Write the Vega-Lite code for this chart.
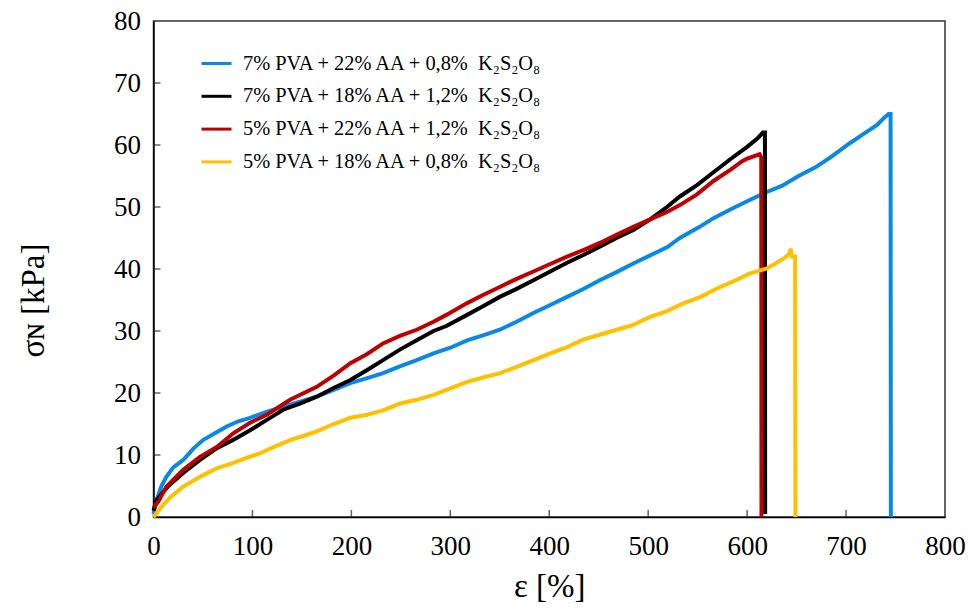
{
  "$schema": "https://vega.github.io/schema/vega-lite/v6.json",
  "autosize": {"type": "none"},
  "width": 791.5,
  "height": 496,
  "padding": {"left": 153.5, "top": 21, "right": 23, "bottom": 91},
  "background": "white",
  "config": {
    "view": {"stroke": "#333333", "strokeWidth": 1.5},
    "axis": {
      "grid": false,
      "domainColor": "black",
      "domainWidth": 1.5,
      "ticks": false,
      "labelFlush": false,
      "labelOverlap": false,
      "labelFont": "Liberation Serif",
      "labelFontSize": 27,
      "labelColor": "black",
      "titleFont": "Liberation Serif",
      "titleFontSize": 33,
      "titleFontWeight": "normal",
      "titleColor": "black"
    }
  },
  "datasets": {
    "xticks": [{"t": 100}, {"t": 200}, {"t": 300}, {"t": 400}, {"t": 500}, {"t": 600}, {"t": 700}],
    "yticks": [{"t": 10}, {"t": 20}, {"t": 30}, {"t": 40}, {"t": 50}, {"t": 60}, {"t": 70}],
    "curves": [
      {"s": "b", "x": 0, "y": 0.5}, {"s": "b", "x": 3, "y": 2.7}, {"s": "b", "x": 8, "y": 5}, {"s": "b", "x": 13, "y": 6.5}, {"s": "b", "x": 20, "y": 8}, {"s": "b", "x": 30, "y": 9.2}, {"s": "b", "x": 40, "y": 11}, {"s": "b", "x": 50, "y": 12.4}, {"s": "b", "x": 62, "y": 13.5}, {"s": "b", "x": 74, "y": 14.6}, {"s": "b", "x": 85, "y": 15.4}, {"s": "b", "x": 97.6, "y": 16}, {"s": "b", "x": 115, "y": 17}, {"s": "b", "x": 131, "y": 17.8}, {"s": "b", "x": 148, "y": 18.6}, {"s": "b", "x": 165, "y": 19.4}, {"s": "b", "x": 182, "y": 20.5}, {"s": "b", "x": 199, "y": 21.6}, {"s": "b", "x": 216, "y": 22.4}, {"s": "b", "x": 232, "y": 23.2}, {"s": "b", "x": 249, "y": 24.3}, {"s": "b", "x": 266, "y": 25.3}, {"s": "b", "x": 283, "y": 26.4}, {"s": "b", "x": 300, "y": 27.3}, {"s": "b", "x": 317, "y": 28.5}, {"s": "b", "x": 333, "y": 29.3}, {"s": "b", "x": 350, "y": 30.2}, {"s": "b", "x": 367, "y": 31.5}, {"s": "b", "x": 384, "y": 32.9}, {"s": "b", "x": 401, "y": 34.2}, {"s": "b", "x": 418, "y": 35.5}, {"s": "b", "x": 435, "y": 36.8}, {"s": "b", "x": 451, "y": 38.2}, {"s": "b", "x": 468, "y": 39.5}, {"s": "b", "x": 485, "y": 40.9}, {"s": "b", "x": 502, "y": 42.2}, {"s": "b", "x": 519, "y": 43.5}, {"s": "b", "x": 532, "y": 45}, {"s": "b", "x": 552, "y": 46.8}, {"s": "b", "x": 566, "y": 48.2}, {"s": "b", "x": 583, "y": 49.6}, {"s": "b", "x": 601, "y": 51}, {"s": "b", "x": 618, "y": 52.3}, {"s": "b", "x": 635, "y": 53.4}, {"s": "b", "x": 652, "y": 55}, {"s": "b", "x": 669, "y": 56.4}, {"s": "b", "x": 686, "y": 58.2}, {"s": "b", "x": 703, "y": 60.2}, {"s": "b", "x": 717, "y": 61.7}, {"s": "b", "x": 731, "y": 63.2}, {"s": "b", "x": 738, "y": 64.3}, {"s": "b", "x": 743, "y": 65}, {"s": "b", "x": 745, "y": 65}, {"s": "b", "x": 745.3, "y": 0},

      {"s": "k", "x": 0, "y": 1}, {"s": "k", "x": 3, "y": 2.7}, {"s": "k", "x": 15, "y": 5}, {"s": "k", "x": 30, "y": 7.1}, {"s": "k", "x": 47, "y": 9.2}, {"s": "k", "x": 64, "y": 11.1}, {"s": "k", "x": 80, "y": 12.4}, {"s": "k", "x": 97.6, "y": 14}, {"s": "k", "x": 115, "y": 15.7}, {"s": "k", "x": 131, "y": 17.3}, {"s": "k", "x": 148, "y": 18.3}, {"s": "k", "x": 165, "y": 19.4}, {"s": "k", "x": 182, "y": 20.8}, {"s": "k", "x": 199, "y": 22.1}, {"s": "k", "x": 216, "y": 23.7}, {"s": "k", "x": 232, "y": 25.3}, {"s": "k", "x": 249, "y": 27}, {"s": "k", "x": 266, "y": 28.5}, {"s": "k", "x": 283, "y": 30}, {"s": "k", "x": 296, "y": 30.8}, {"s": "k", "x": 317, "y": 32.6}, {"s": "k", "x": 333, "y": 34}, {"s": "k", "x": 350, "y": 35.5}, {"s": "k", "x": 367, "y": 36.8}, {"s": "k", "x": 384, "y": 38.2}, {"s": "k", "x": 401, "y": 39.6}, {"s": "k", "x": 418, "y": 41}, {"s": "k", "x": 435, "y": 42.3}, {"s": "k", "x": 451, "y": 43.6}, {"s": "k", "x": 468, "y": 45}, {"s": "k", "x": 485, "y": 46.3}, {"s": "k", "x": 502, "y": 48}, {"s": "k", "x": 519, "y": 50}, {"s": "k", "x": 532, "y": 51.7}, {"s": "k", "x": 549, "y": 53.5}, {"s": "k", "x": 566, "y": 55.6}, {"s": "k", "x": 583, "y": 57.7}, {"s": "k", "x": 600, "y": 59.7}, {"s": "k", "x": 610, "y": 61}, {"s": "k", "x": 616, "y": 62}, {"s": "k", "x": 618, "y": 62}, {"s": "k", "x": 618.2, "y": 0.5},

      {"s": "r", "x": 0, "y": 1.5}, {"s": "r", "x": 5, "y": 2.5}, {"s": "r", "x": 13, "y": 4.9}, {"s": "r", "x": 30, "y": 7.6}, {"s": "r", "x": 47, "y": 9.7}, {"s": "r", "x": 64, "y": 11.3}, {"s": "r", "x": 80.6, "y": 13.5}, {"s": "r", "x": 97.6, "y": 15.2}, {"s": "r", "x": 114.5, "y": 16.5}, {"s": "r", "x": 138, "y": 18.9}, {"s": "r", "x": 165, "y": 21}, {"s": "r", "x": 182, "y": 22.8}, {"s": "r", "x": 199, "y": 24.8}, {"s": "r", "x": 216, "y": 26.3}, {"s": "r", "x": 232, "y": 28}, {"s": "r", "x": 249, "y": 29.2}, {"s": "r", "x": 266, "y": 30.2}, {"s": "r", "x": 283, "y": 31.5}, {"s": "r", "x": 296, "y": 32.6}, {"s": "r", "x": 317, "y": 34.5}, {"s": "r", "x": 333, "y": 35.8}, {"s": "r", "x": 350, "y": 37.1}, {"s": "r", "x": 367, "y": 38.4}, {"s": "r", "x": 384, "y": 39.6}, {"s": "r", "x": 401, "y": 40.8}, {"s": "r", "x": 418, "y": 42}, {"s": "r", "x": 435, "y": 43.1}, {"s": "r", "x": 451, "y": 44.2}, {"s": "r", "x": 468, "y": 45.5}, {"s": "r", "x": 485, "y": 46.8}, {"s": "r", "x": 502, "y": 48}, {"s": "r", "x": 519, "y": 49.2}, {"s": "r", "x": 532, "y": 50.3}, {"s": "r", "x": 549, "y": 52}, {"s": "r", "x": 566, "y": 54.2}, {"s": "r", "x": 583, "y": 56}, {"s": "r", "x": 595, "y": 57.4}, {"s": "r", "x": 600, "y": 57.8}, {"s": "r", "x": 612.6, "y": 58.5}, {"s": "r", "x": 614.3, "y": 58}, {"s": "r", "x": 614.5, "y": 0},

      {"s": "y", "x": 0, "y": 0}, {"s": "y", "x": 3, "y": 0.6}, {"s": "y", "x": 10, "y": 2}, {"s": "y", "x": 17, "y": 3.2}, {"s": "y", "x": 30, "y": 4.9}, {"s": "y", "x": 47, "y": 6.5}, {"s": "y", "x": 63, "y": 7.8}, {"s": "y", "x": 80, "y": 8.7}, {"s": "y", "x": 95, "y": 9.6}, {"s": "y", "x": 108, "y": 10.3}, {"s": "y", "x": 123, "y": 11.4}, {"s": "y", "x": 138, "y": 12.4}, {"s": "y", "x": 152, "y": 13.1}, {"s": "y", "x": 165, "y": 13.8}, {"s": "y", "x": 182, "y": 15}, {"s": "y", "x": 199, "y": 16}, {"s": "y", "x": 216, "y": 16.5}, {"s": "y", "x": 232, "y": 17.2}, {"s": "y", "x": 249, "y": 18.3}, {"s": "y", "x": 266, "y": 18.9}, {"s": "y", "x": 283, "y": 19.7}, {"s": "y", "x": 296, "y": 20.5}, {"s": "y", "x": 317, "y": 21.8}, {"s": "y", "x": 333, "y": 22.5}, {"s": "y", "x": 350, "y": 23.2}, {"s": "y", "x": 367, "y": 24.2}, {"s": "y", "x": 384, "y": 25.3}, {"s": "y", "x": 401, "y": 26.4}, {"s": "y", "x": 418, "y": 27.4}, {"s": "y", "x": 434, "y": 28.6}, {"s": "y", "x": 451, "y": 29.4}, {"s": "y", "x": 468, "y": 30.2}, {"s": "y", "x": 485, "y": 31}, {"s": "y", "x": 502, "y": 32.3}, {"s": "y", "x": 519, "y": 33.2}, {"s": "y", "x": 536, "y": 34.5}, {"s": "y", "x": 553, "y": 35.5}, {"s": "y", "x": 570, "y": 36.9}, {"s": "y", "x": 586, "y": 38}, {"s": "y", "x": 603, "y": 39.3}, {"s": "y", "x": 620, "y": 40.1}, {"s": "y", "x": 637, "y": 41.7}, {"s": "y", "x": 643, "y": 42.5}, {"s": "y", "x": 644, "y": 43.3}, {"s": "y", "x": 645, "y": 42}, {"s": "y", "x": 648.5, "y": 42}, {"s": "y", "x": 648.8, "y": 0}
    ]
  },
  "layer": [
    {
      "data": {"name": "curves"},
      "mark": {"type": "line", "strokeWidth": 4, "strokeJoin": "miter"},
      "encoding": {
        "x": {
          "field": "x", "type": "quantitative",
          "scale": {"domain": [0, 800], "nice": false, "zero": false},
          "axis": {"values": [0, 100, 200, 300, 400, 500, 600, 700, 800], "ticks": false, "labelFont": "Liberation Serif", "labelFontSize": 27, "labelFlush": false, "labelPadding": 16, "title": "ε [%]", "titleFont": "Liberation Serif", "titlePadding": 11}
        },
        "y": {
          "field": "y", "type": "quantitative",
          "scale": {"domain": [0, 80], "nice": false},
          "axis": {"values": [0, 10, 20, 30, 40, 50, 60, 70, 80], "ticks": false, "labelFont": "Liberation Serif", "labelFontSize": 27, "labelFlush": false, "labelPadding": 13, "title": "σɴ [kPa]", "titleFont": "Liberation Serif", "titleX": -120, "titleY": 279, "titleAngle": -90, "titleAlign": "center", "titleBaseline": "middle"}
        },
        "color": {
          "field": "s", "type": "nominal",
          "scale": {"domain": ["b", "k", "r", "y"], "range": ["#0A88E6", "#000000", "#C00000", "#FFC000"]},
          "legend": {
            "orient": "none", "legendX": 46.5, "legendY": 26, "title": null,
            "symbolType": "stroke", "symbolSize": 900, "symbolStrokeWidth": 3,
            "labelFont": "Liberation Serif", "labelFontSize": 20.4, "labelColor": "black",
            "labelOffset": 10, "rowPadding": 5.8, "padding": 0, "labelLimit": 600,
            "labelExpr": "datum.value == 'b' ? '7% PVA + 22% AA + 0,8%\u00a0\u00a0K₂S₂O₈' : datum.value == 'k' ? '7% PVA + 18% AA + 1,2%\u00a0\u00a0K₂S₂O₈' : datum.value == 'r' ? '5% PVA + 22% AA + 1,2%\u00a0\u00a0K₂S₂O₈' : '5% PVA + 18% AA + 0,8%\u00a0\u00a0K₂S₂O₈'"
          }
        }
      }
    },
    {
      "data": {"name": "xticks"},
      "mark": {"type": "tick", "orient": "vertical", "size": 14, "thickness": 1.5, "color": "#222222", "clip": true},
      "encoding": {
        "x": {"field": "t", "type": "quantitative"},
        "y": {"datum": 0, "type": "quantitative"}
      }
    },
    {
      "data": {"name": "yticks"},
      "mark": {"type": "tick", "orient": "horizontal", "size": 14, "thickness": 1.5, "color": "#222222", "clip": true},
      "encoding": {
        "y": {"field": "t", "type": "quantitative"},
        "x": {"datum": 0, "type": "quantitative"}
      }
    }
  ]
}
